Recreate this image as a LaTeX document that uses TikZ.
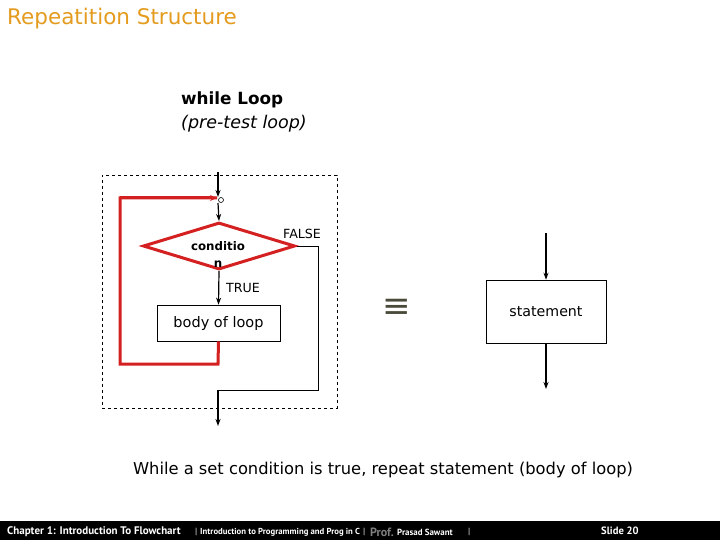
\documentclass[tikz,border=0pt]{standalone}
\usepackage{fontspec}
\setmainfont{DejaVu Sans}
\newfontfamily\footfont{PT Sans}
\usetikzlibrary{arrows.meta,shapes.geometric}
\definecolor{titleor}{HTML}{E49B1E}
\definecolor{loopred}{HTML}{D42020}
\definecolor{eqgray}{HTML}{4A4A3A}
\begin{document}
\begin{tikzpicture}[x=1pt,y=-1pt,
  arr/.style={-{Stealth[length=7pt,width=5pt]}, line width=1.2pt},
  redline/.style={draw=loopred, line width=3pt},
  boxnode/.style={draw, line width=0.6pt, inner sep=0pt},
  lbl/.style={font=\fontsize{12.6}{15}\selectfont, inner sep=0pt},
  foot/.style={text=white, inner sep=0pt, anchor=west}]
\useasboundingbox (0,0) rectangle (720,540);
\fill[white] (0,0) rectangle (720,540);
% title
\node[anchor=west, text=titleor, inner sep=0pt, font=\fontsize{21.5}{24}\selectfont] (title) at (7,19) {Repeatition Structure};
\node[anchor=west, inner sep=0pt, font=\bfseries\fontsize{16.8}{19}\selectfont] (hd) at (181,100) {while Loop};
\node[anchor=west, inner sep=0pt, font=\itshape\fontsize{17.5}{20}\selectfont] (hd2) at (181,124) {(pre-test loop)};
% dashed frame
\node[draw, dashed, line width=0.6pt, minimum width=235pt, minimum height=233pt, inner sep=0pt] (frame) at (219.5,291.5) {};
% junction
\coordinate (start) at (218,172);
\node[draw, circle, minimum size=5pt, inner sep=0pt, line width=0.6pt] (jn) at (221,200) {};
\coordinate (jtop) at (218,197);
% diamond
\node[diamond, draw=loopred, line width=3pt, minimum width=152pt, minimum height=47pt, inner sep=0pt] (dia) at (219,246) {};
\node[align=center, inner sep=0pt, font=\bfseries\fontsize{11.8}{17}\selectfont] (cond) at (218,255) {conditio\\n};
\node[lbl, anchor=west] (false) at (283,234) {FALSE};
\node[lbl, anchor=west] (true) at (226,288) {TRUE};
% body
\node[boxnode, minimum width=123pt, minimum height=36pt, font=\fontsize{14.5}{17}\selectfont] (body) at (218.5,323) {body of loop};
% loop back
\coordinate (lb1) at (218,364);
\coordinate (lb2) at (120,364);
\coordinate (lb3) at (120,198);
\coordinate (lb4) at (217,198);
% false exit
\coordinate (f1) at (318,246);
\coordinate (f2) at (318,390);
\coordinate (f3) at (218,390);
\coordinate (fend) at (218,426);
% connectors
\draw[arr] (start) -- (jtop);
\draw[arr] (218,203) -- (dia.north);
\draw[arr] (dia.south) -- (body.north);
\draw[redline] (body.south) -- (lb1) -- (lb2) -- (lb3) -- (lb4);
\draw[-{Stealth[length=7pt,width=6pt]}, draw=loopred, fill=loopred, line width=3pt] (lb3) -- (lb4);
\draw[line width=0.8pt] (dia.east) -- (f1) -- (f2) -- (f3);
\draw[arr] (f3) -- (fend);
% equivalent
\node[text=eqgray, inner sep=0pt, font=\fontsize{34}{34}\selectfont] (eq) at (397,308) {≡};
% right side
\node[boxnode, minimum width=120pt, minimum height=63pt, font=\fontsize{14.2}{17}\selectfont] (stmt) at (546,311.5) {statement};
\coordinate (sin) at (546,233);
\coordinate (sout) at (546,389);
\draw[arr] (sin) -- (stmt.north);
\draw[arr] (stmt.south) -- (sout);
% caption
\node[inner sep=0pt, font=\fontsize{16.3}{19}\selectfont] (cap) at (383,470) {While a set condition is true, repeat statement (body of loop)};
% footer
\fill[black] (0,521) rectangle (720,540);
\node[foot, font=\footfont\bfseries\fontsize{11}{13}\selectfont] (ch) at (7,532) {Chapter 1: Introduction To Flowchart};
\node[foot, font=\footfont\fontsize{9}{10}\selectfont] (b1) at (195,532) {|};
\node[foot, font=\footfont\bfseries\fontsize{8.7}{10}\selectfont] (intro) at (200,532.5) {Introduction to Programming and Prog in C};
\node[foot, font=\footfont\fontsize{9}{10}\selectfont] (b2) at (363,532) {|};
\node[foot, text=gray, font=\footfont\bfseries\fontsize{12}{13}\selectfont] (prof) at (370,532) {Prof.};
\node[foot, font=\footfont\bfseries\fontsize{8.9}{10}\selectfont] (ps) at (397,532.5) {Prasad Sawant};
\node[foot, font=\footfont\fontsize{9}{10}\selectfont] (b3) at (468,532) {|};
\node[foot, font=\footfont\bfseries\fontsize{10.6}{12}\selectfont] (slide) at (601,531) {Slide 20};
\end{tikzpicture}
\end{document}
